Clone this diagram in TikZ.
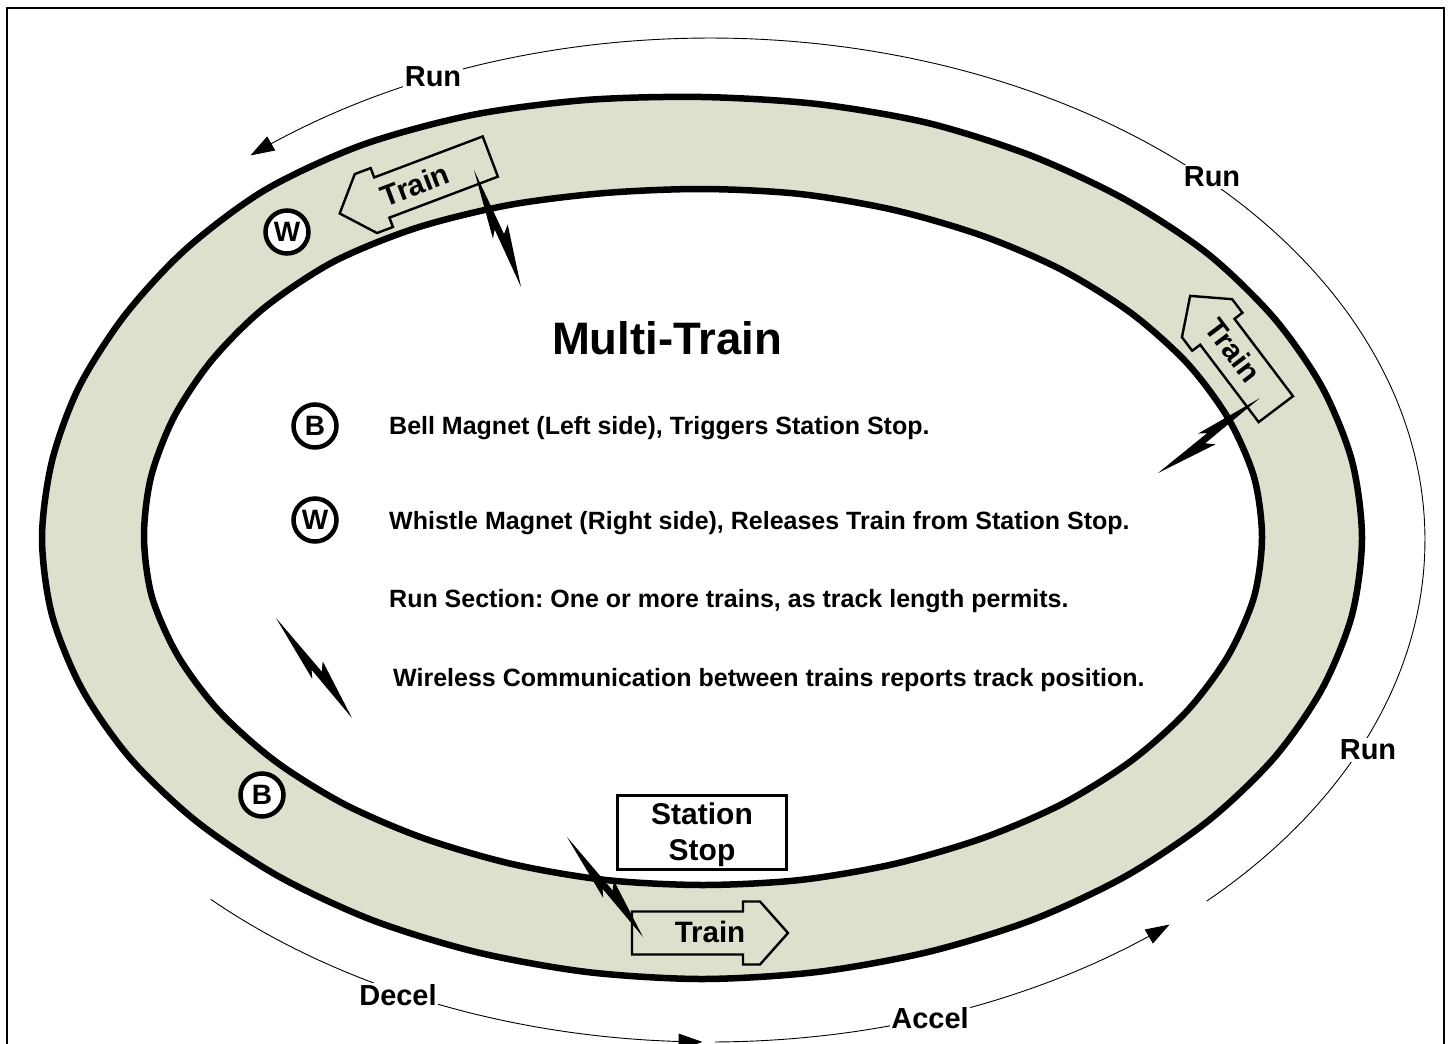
\documentclass[tikz,border=0pt]{standalone}
\usepackage{fontspec}
\setmainfont{Liberation Sans}
\usetikzlibrary{calc,arrows.meta}
\definecolor{trackfill}{RGB}{220,224,204}
\tikzset{
  ring/.style={fill=trackfill, draw=black, line width=6.5pt, even odd rule},
  trainshape/.style={fill=trackfill, draw=black, line width=2.4pt, line join=miter},
  traintext/.style={font=\fontsize{29.5}{32}\selectfont\bfseries, inner sep=0pt},
  magnet/.style={circle, draw=black, line width=4.5pt, fill=white, minimum size=43pt, inner sep=0pt, font=\fontsize{28}{30}\selectfont\bfseries},
  legend/.style={anchor=base west, inner sep=0pt, font=\fontsize{25}{28}\selectfont\bfseries},
  arclabel/.style={fill=white, inner sep=1.5pt, font=\fontsize{29}{31}\selectfont\bfseries},
  runline/.style={line width=0.9pt, draw=black},
  bolt/.style={fill=black},
  frameline/.style={line width=2pt}
}
\newcommand{\trainbody}[4]{%
\begin{scope}[shift={(#1,#2)}, rotate=#3]
\draw[trainshape] (-#4,-21.5) -- ({#4-45},-21.5) -- ({#4-45},-31.5) -- ({#4-28},-31.5) -- (#4,0) -- ({#4-28},31.5) -- ({#4-45},31.5) -- ({#4-45},21.5) -- (-#4,21.5) -- cycle;
\end{scope}}
\newcommand{\lightning}[2]{%
\fill[bolt] (#1) -- ($(#1)!0.56!(#2)!8pt!-90:(#2)$) -- ($(#1)!0.5!(#2)!3pt!-90:(#2)$) -- (#2) -- ($(#1)!0.5!(#2)!11pt!90:(#2)$) -- ($(#1)!0.56!(#2)!4pt!90:(#2)$) -- cycle;}
\begin{document}
\frenchspacing
\begin{tikzpicture}[x=1pt,y=-1pt]
\useasboundingbox (0,0) rectangle (1451,1044);
\draw[frameline] (7,1060) -- (7,8) -- (1444,8) -- (1444,1060);
% outer direction arcs
\draw[runline, -{Triangle[length=24pt,width=16pt]}] plot[domain=-46:130, samples=160] ({710+715*cos(\x)},{540-502*sin(\x)});
\draw[runline, -{Triangle[length=24pt,width=16pt]}] plot[domain=225.7:269.4, samples=60] ({710+715*cos(\x)},{540-502*sin(\x)});
\draw[runline, -{Triangle[length=24pt,width=16pt]}] plot[domain=-89.6:-50, samples=60] ({710+715*cos(\x)},{540-502*sin(\x)});
\node[arclabel] (run1) at (433,77) {Run};
\node[arclabel] (run2) at (1212,177) {Run};
\node[arclabel] (run3) at (1368,750) {Run};
\node[arclabel] (decel) at (398,995) {Decel};
\node[arclabel] (accel) at (930,1018) {Accel};
% track ring
\path[ring]
  plot[smooth cycle] coordinates {(1362,538) (1352,461) (1322,387) (1274,318) (1208,254) (1126,200) (1032,156) (928,123) (817,104) (702,97) (586,100) (472,115) (362,145) (265,190) (186,249) (125,315) (79,387) (52,461) (42,538) (52,615) (82,689) (130,758) (196,821) (278,876) (372,920) (476,952) (587,972) (702,979) (817,972) (928,952) (1032,920) (1126,876) (1208,821) (1274,758) (1322,689) (1352,615)}
  plot[smooth cycle] coordinates {(1262,537) (1254,477) (1228,418) (1187,363) (1131,313) (1062,270) (983,236) (894,210) (800,194) (703,189) (605,193) (509,205) (416,228) (333,262) (264,308) (212,360) (174,417) (151,477) (144,537) (152,597) (178,656) (219,711) (275,761) (344,804) (423,838) (512,864) (606,880) (703,885) (800,880) (894,864) (983,838) (1062,804) (1131,761) (1187,711) (1228,656) (1254,597)};
% trains
\trainbody{415}{185}{200.7}{80.5}
\node[traintext, rotate=20.7] (train1) at (415,185) {Train};
\trainbody{1233}{352.5}{127.1}{71}
\node[traintext, rotate=-52.9] (train2) at (1233,350) {Train};
\trainbody{710}{933}{0}{78}
\node[traintext] (train3) at (710,932) {Train};
% magnets on track
\node[magnet] (magW) at (287,232) {W};
\node[magnet] (magB) at (262,795) {B};
% station stop
\node[draw=black, line width=2.5pt, minimum width=169pt, minimum height=74pt, inner sep=0pt] (stationbox) at (702,832.5) {};
\node[align=center, inner sep=0pt, font=\fontsize{30}{36}\selectfont\bfseries] (stationtext) at (702,834.5) {Station\\Stop};
% title and legend
\node[anchor=base, inner sep=0pt, font=\fontsize{45.5}{50}\selectfont\bfseries] (title) at (667,354) {Multi-Train};
\node[magnet] (legB) at (315,426) {B};
\node[magnet] (legW) at (315,520) {W};
\node[legend] (txtB) at (389,434) {Bell Magnet (Left side), Triggers Station Stop.};
\node[legend] (txtW) at (389,529) {Whistle Magnet (Right side), Releases Train from Station Stop.};
\node[legend] (txtRun) at (389,607) {Run Section: One or more trains, as track length permits.};
\node[legend] (txtWL) at (393,686) {Wireless Communication between trains reports track position.};
% lightning bolts
\coordinate (b1p) at (474,170); \coordinate (b1q) at (521,287);
\coordinate (b2p) at (1260,398); \coordinate (b2q) at (1158,473);
\coordinate (b3p) at (567,837); \coordinate (b3q) at (643,937);
\coordinate (b4p) at (276,618); \coordinate (b4q) at (352,718);
\lightning{b1p}{b1q}
\lightning{b2p}{b2q}
\lightning{b3p}{b3q}
\lightning{b4p}{b4q}
\end{tikzpicture}
\end{document}
